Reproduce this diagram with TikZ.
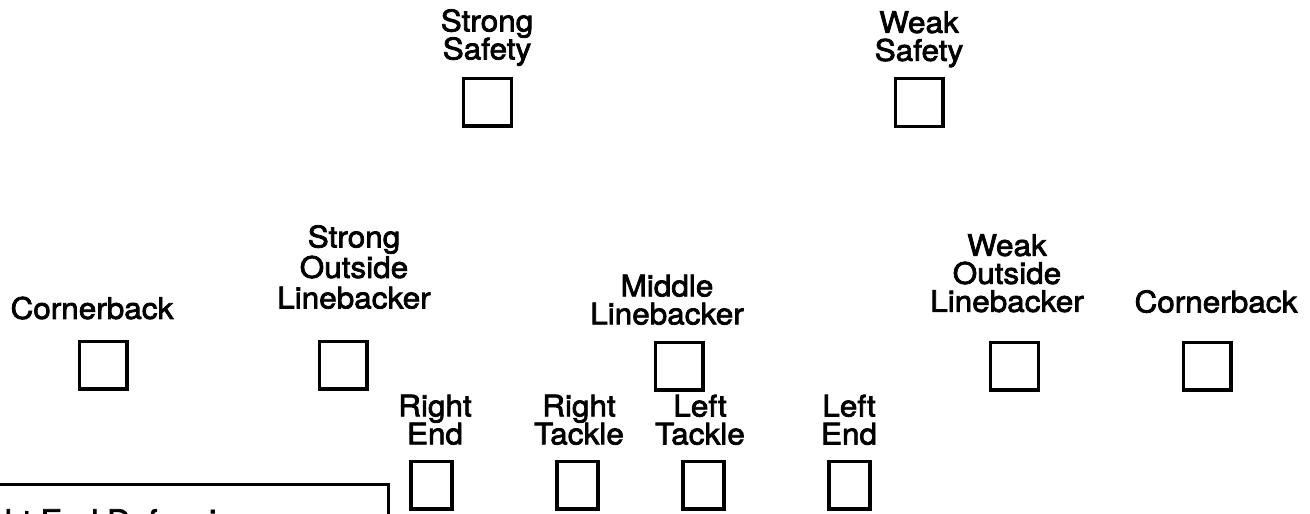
\documentclass[tikz,border=0pt]{standalone}
\usepackage{fontspec}
\setmainfont{TeX Gyre Heros}
\newfontfamily\scanfam{TeX Gyre Heros}[FakeBold=2.5, FakeStretch=1.06]
\newcommand\posfont{\scanfam\fontsize{29.7}{28}\selectfont\lineskiplimit=-40pt\relax\lineskip=0pt\relax}
\newcommand\posfontwide{\scanfam\fontsize{29.7}{30.5}\selectfont\lineskiplimit=-40pt\relax\lineskip=0pt\relax}
\newcommand\capfont{\scanfam\fontsize{30.5}{32}\selectfont}
\begin{document}
\begin{tikzpicture}[x=1pt,y=-1pt,
  posbox/.style={draw=black, line width=3.2pt, minimum width=47.8pt, minimum height=47.8pt, inner sep=0pt},
  linebox/.style={posbox, minimum width=41pt},
  lbl/.style={align=center, inner sep=0pt, anchor=north, font=\posfont},
  lblwide/.style={lbl, font=\posfontwide}]
\useasboundingbox (0,0) rectangle (1310,514);
% safeties
\node[lbl] (ssl) at (487,9) {Strong\\Safety};
\node[posbox] (ss) at (487.5,102) {};
\node[lbl] (wsl) at (919,11) {Weak\\Safety};
\node[posbox] (ws) at (919,102.5) {};
% second level
\node[lbl] (cbll) at (92,296.5) {Cornerback};
\node[posbox] (cbl) at (103,365) {};
\node[lblwide] (soll) at (354,225) {Strong\\Outside\\Linebacker};
\node[posbox] (sol) at (343,365) {};
\node[lbl] (mlbl) at (667,274.5) {Middle\\Linebacker};
\node[posbox] (mlb) at (679,366) {};
\node[lbl] (woll) at (1007,234) {Weak\\Outside\\Linebacker};
\node[posbox] (wol) at (1014.5,366) {};
\node[lbl] (cbrl) at (1216,290) {Cornerback};
\node[posbox] (cbr) at (1207,366) {};
% line
\node[lbl] (rel) at (435,394.5) {Right\\End};
\node[linebox] (re) at (431.5,485) {};
\node[lbl] (rtl) at (579,394.5) {Right\\Tackle};
\node[linebox] (rt) at (577.5,485) {};
\node[lbl] (ltl) at (700,394.5) {Left\\Tackle};
\node[linebox] (lt) at (703.5,485) {};
\node[lbl] (lel) at (849,394.5) {Left\\End};
\node[linebox] (le) at (849.5,485) {};
% partial caption box at lower left
\begin{scope}
\clip (0,0) rectangle (1310,514);
\node[draw=black, line width=3pt, anchor=north east, minimum width=420pt, minimum height=80pt, inner sep=0pt] (legend) at (390,483) {};
\node[anchor=north west, inner sep=0pt, font=\capfont] (legendtext) at (-44,509) {Right End Defensive};
\end{scope}
\end{tikzpicture}
\end{document}
